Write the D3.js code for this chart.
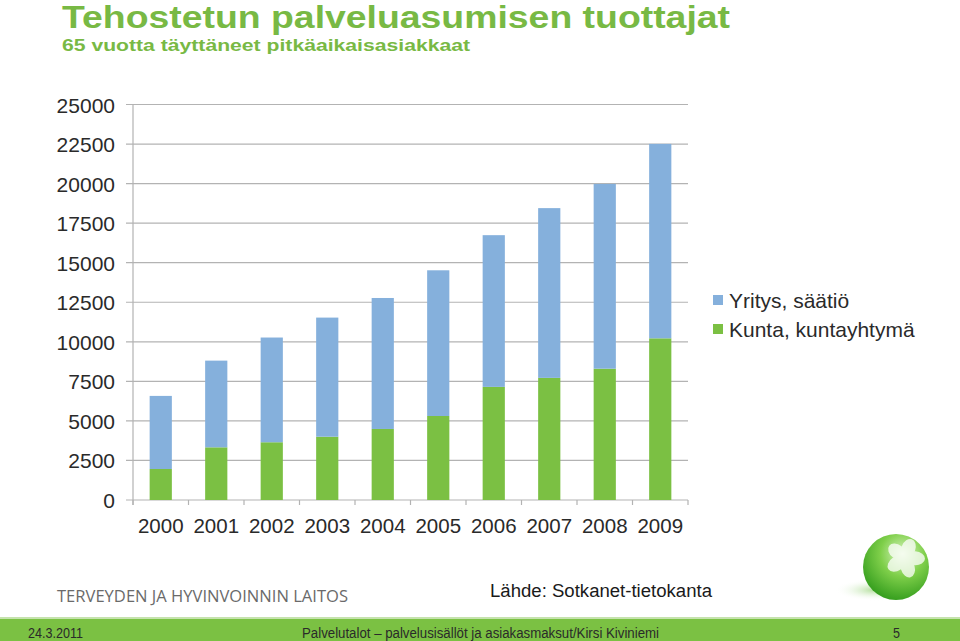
<!DOCTYPE html>
<html><head><meta charset="utf-8">
<script src="https://cdn.jsdelivr.net/npm/d3@7"></script>
<style>body{margin:0;background:#fff}svg{display:block}</style>
</head><body>
<script>
const years = ["2000","2001","2002","2003","2004","2005","2006","2007","2008","2009"];
const kunta = [1960, 3330, 3650, 4000, 4490, 5310, 7150, 7720, 8300, 10220];
const yritys = [4620, 5480, 6620, 7530, 8280, 9210, 9590, 10730, 11680, 12290];
const yTicks = [0, 2500, 5000, 7500, 10000, 12500, 15000, 17500, 20000, 22500, 25000];
const seriesNames = ["Yritys, säätiö", "Kunta, kuntayhtymä"];
const colors = {"Kunta, kuntayhtymä": "#7bc043", "Yritys, säätiö": "#85b0dc"};

const W = 960, H = 641;
const svg = d3.select("body").append("svg").attr("width", W).attr("height", H);
const font = "'Liberation Sans', Arial, sans-serif";
const narrow = "'Liberation Sans Narrow', 'Liberation Sans', Arial, sans-serif";

// Title
svg.append("text").attr("x", 62).attr("y", 28).attr("fill", "#78b944")
  .attr("font-family", font).attr("font-weight", "bold").attr("font-size", 32)
  .attr("textLength", 668).attr("lengthAdjust", "spacingAndGlyphs")
  .text("Tehostetun palveluasumisen tuottajat");
svg.append("text").attr("x", 62).attr("y", 51).attr("fill", "#78b944")
  .attr("font-family", font).attr("font-weight", "bold").attr("font-size", 17)
  .attr("textLength", 408).attr("lengthAdjust", "spacingAndGlyphs")
  .text("65 vuotta täyttäneet pitkäaikaisasiakkaat");

// Chart
const x0 = 133, x1 = 688, yTop = 104.5, yBot = 500;
const x = d3.scaleBand().domain(years).range([x0, x1]).paddingInner(0.6).paddingOuter(0.3);
const y = d3.scaleLinear().domain([0, 25000]).range([yBot, yTop]);

const g = svg.append("g");
g.selectAll("line.grid").data(yTicks).join("line")
  .attr("x1", x0 - 7).attr("x2", x1).attr("y1", d => y(d)).attr("y2", d => y(d))
  .attr("stroke", "#b3b3b3").attr("stroke-width", 1.2);
g.append("line").attr("x1", x0).attr("x2", x0).attr("y1", yTop).attr("y2", yBot + 5)
  .attr("stroke", "#b3b3b3").attr("stroke-width", 1.2);
const bounds = d3.range(years.length + 1).map(i => x0 + i * (x1 - x0) / years.length);
g.selectAll("line.xt").data(bounds).join("line")
  .attr("x1", d => d).attr("x2", d => d).attr("y1", yBot).attr("y2", yBot + 5)
  .attr("stroke", "#b3b3b3").attr("stroke-width", 1.2);

g.selectAll("text.yl").data(yTicks).join("text")
  .attr("x", 115).attr("y", d => y(d) + 8).attr("text-anchor", "end")
  .attr("font-family", font).attr("font-size", 21).attr("fill", "#2a2a2a")
  .text(d => d);

const rows = years.map((yr, i) => ({year: yr, "Kunta, kuntayhtymä": kunta[i], "Yritys, säätiö": yritys[i]}));
const stack = d3.stack().keys(["Kunta, kuntayhtymä", "Yritys, säätiö"])(rows);
g.selectAll("g.s").data(stack).join("g").attr("fill", d => colors[d.key])
  .selectAll("rect").data(d => d).join("rect")
  .attr("x", d => x(d.data.year)).attr("width", x.bandwidth())
  .attr("y", d => y(d[1])).attr("height", d => y(d[0]) - y(d[1]));

const bandCenters = years.map((yr, i) => x0 + (i + 0.5) * (x1 - x0) / years.length);
g.selectAll("text.xl").data(years).join("text")
  .attr("x", (d, i) => bandCenters[i]).attr("y", 533).attr("text-anchor", "middle")
  .attr("font-family", font).attr("font-size", 20.5).attr("fill", "#2a2a2a")
  .text(d => d);

// legend
const leg = svg.append("g").attr("transform", "translate(713,295)");
seriesNames.forEach((n, i) => {
  leg.append("rect").attr("x", 0).attr("y", i * 29).attr("width", 10).attr("height", 10).attr("fill", colors[n]);
  leg.append("text").attr("x", 16).attr("y", i * 29 + 12.5).attr("font-family", font)
    .attr("font-size", 21).attr("fill", "#2a2a2a").text(n);
});

// Source
svg.append("text").attr("x", 490).attr("y", 597).attr("font-family", narrow).attr("font-size", 18)
  .attr("fill", "#1a1a1a").attr("textLength", 222).attr("lengthAdjust", "spacingAndGlyphs")
  .text("Lähde: Sotkanet-tietokanta");

// Institution name
svg.append("text").attr("x", 57).attr("y", 602).attr("font-family", "'Open Sans', 'DejaVu Sans', sans-serif")
  .attr("font-size", 15.5).attr("fill", "#6a6a6a").attr("textLength", 291).attr("lengthAdjust", "spacingAndGlyphs")
  .text("TERVEYDEN JA HYVINVOINNIN LAITOS");

// Logo
const defs = svg.append("defs");
const rg = defs.append("radialGradient").attr("id", "ball").attr("cx", "0.6").attr("cy", "0.3").attr("r", "0.75");
rg.append("stop").attr("offset", "0").attr("stop-color", "#d8f5c0");
rg.append("stop").attr("offset", "0.45").attr("stop-color", "#7fcf4a");
rg.append("stop").attr("offset", "1").attr("stop-color", "#2f9a1a");
const sg = defs.append("radialGradient").attr("id", "shadow");
sg.append("stop").attr("offset", "0").attr("stop-color", "#8ccf6a").attr("stop-opacity", 0.7);
sg.append("stop").attr("offset", "1").attr("stop-color", "#ffffff").attr("stop-opacity", 0);
svg.append("ellipse").attr("cx", 875).attr("cy", 590).attr("rx", 40).attr("ry", 11).attr("fill", "url(#shadow)");
svg.append("circle").attr("cx", 896).attr("cy", 567).attr("r", 33).attr("fill", "url(#ball)");
const petals = svg.append("g").attr("transform", "translate(905,558)").attr("fill", "#ffffff").attr("opacity", 0.75);
[0, 72, 144, 216, 288].forEach(a => {
  petals.append("ellipse").attr("cx", 0).attr("cy", -10).attr("rx", 7).attr("ry", 10)
    .attr("transform", `rotate(${a + 20})`);
});

// Footer
svg.append("rect").attr("x", 0).attr("y", 617).attr("width", W).attr("height", 2).attr("fill", "#c5e3ad");
svg.append("rect").attr("x", 0).attr("y", 619).attr("width", W).attr("height", 22).attr("fill", "#7bc143");
const ft = [{t: "24.3.2011", x: 28, w: 55}, {t: "Palvelutalot – palvelusisällöt ja asiakasmaksut/Kirsi Kiviniemi", x: 302, w: 357}, {t: "5", x: 893, w: 7}];
ft.forEach(f => svg.append("text").attr("x", f.x).attr("y", 638).attr("font-family", narrow)
  .attr("font-size", 14).attr("fill", "#2a2a2a").attr("textLength", f.w).attr("lengthAdjust", "spacingAndGlyphs").text(f.t));
</script>
</body></html>
